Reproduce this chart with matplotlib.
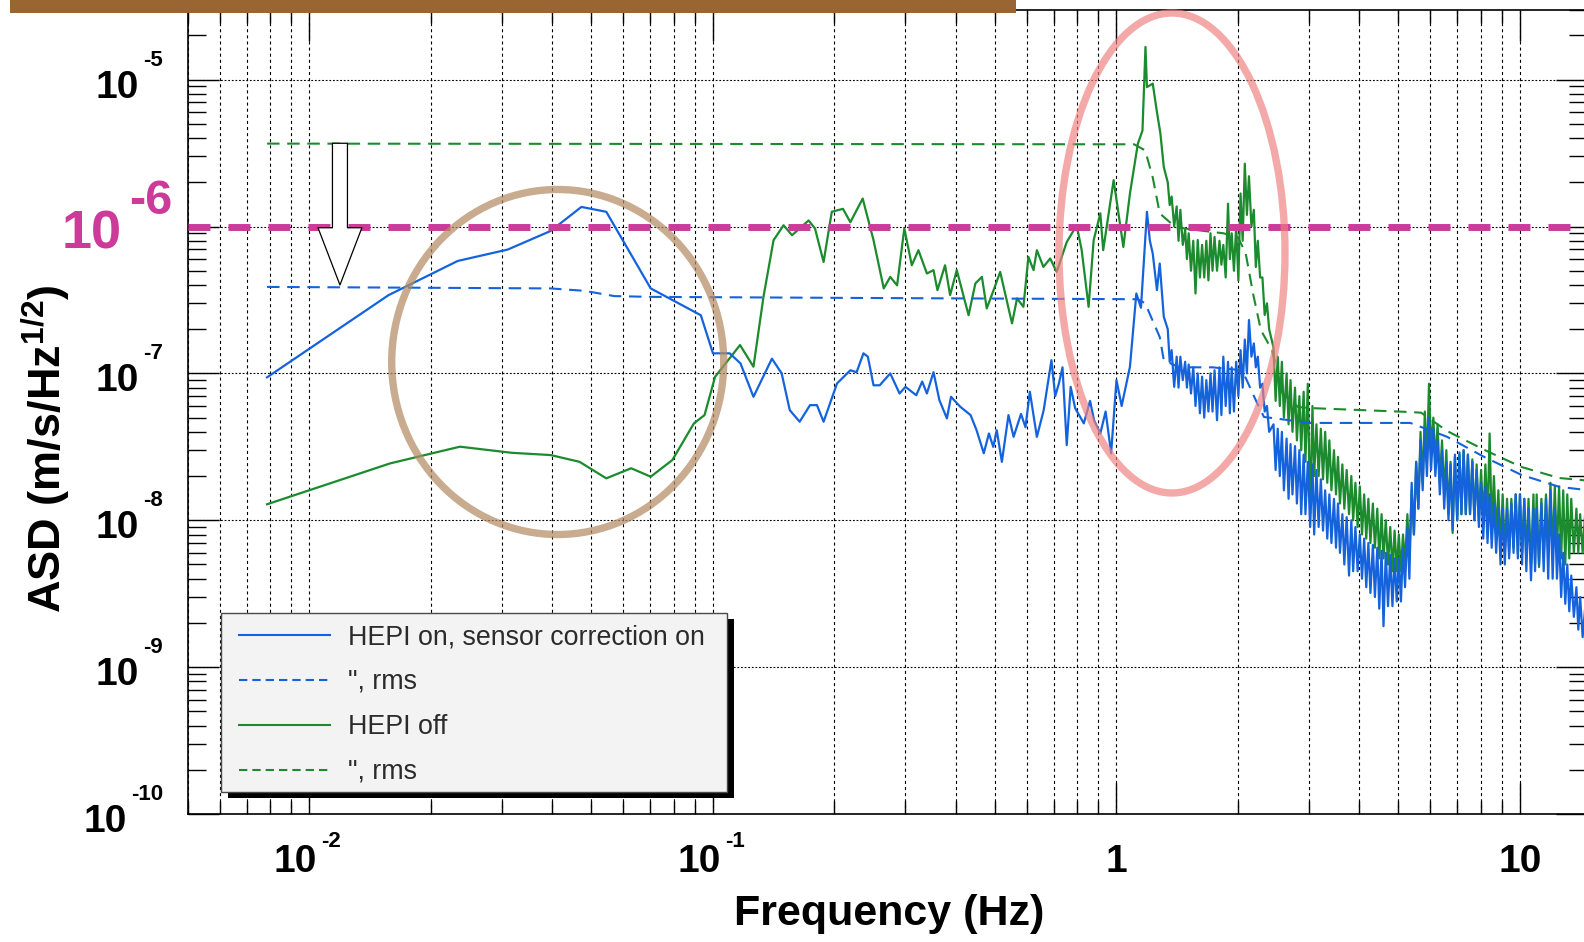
import numpy as np
import matplotlib
matplotlib.use("Agg")
import matplotlib.pyplot as plt
from matplotlib.patches import Ellipse, Rectangle
from matplotlib.lines import Line2D
from matplotlib.ticker import LogLocator, NullFormatter
import matplotlib.transforms as mtransforms

plt.rcParams['font.family'] = ['Liberation Sans', 'DejaVu Sans']
plt.rcParams['lines.scale_dashes'] = False
plt.rcParams['mathtext.fontset'] = 'custom'
plt.rcParams['mathtext.rm'] = 'Liberation Sans:bold'
plt.rcParams['mathtext.bf'] = 'Liberation Sans:bold'
plt.rcParams['mathtext.it'] = 'Liberation Sans:bold'
plt.rcParams['mathtext.default'] = 'rm'

# ---------------- data ----------------
# smooth / low-frequency part (up to 1.31 Hz)
blue_lf_f = [0.00785, 0.0157, 0.0233, 0.0310, 0.0396, 0.0472, 0.0544, 0.0701, 0.0933, 0.100,
             0.110, 0.117, 0.126, 0.140, 0.148, 0.155, 0.164, 0.174, 0.181, 0.188,
             0.203, 0.219, 0.227, 0.236, 0.242, 0.250, 0.259, 0.275, 0.290, 0.300,
             0.319, 0.330, 0.339, 0.352, 0.364, 0.380, 0.389, 0.410, 0.435, 0.450,
             0.469, 0.483, 0.495, 0.505, 0.520, 0.540, 0.556, 0.580, 0.595, 0.610,
             0.635, 0.660, 0.690, 0.705, 0.720, 0.735, 0.753, 0.770, 0.790, 0.830,
             0.860, 0.880, 0.912, 0.940, 0.970, 1.00, 1.03, 1.08, 1.10, 1.12,
             1.15, 1.19, 1.21, 1.23, 1.26, 1.28, 1.31]
blue_lf_asd = [9.4e-8, 3.41e-7, 5.83e-7, 6.97e-7, 9.33e-7, 1.36e-6, 1.26e-6, 3.79e-7, 2.49e-7, 1.37e-7,
               1.37e-7, 1.17e-7, 6.93e-8, 1.26e-7, 1.0e-7, 5.62e-8, 4.69e-8, 6.08e-8, 6.08e-8, 4.69e-8,
               8.55e-8, 1.05e-7, 1.02e-7, 1.37e-7, 1.3e-7, 8.3e-8, 8.3e-8, 1.0e-7, 7.3e-8, 8.1e-8,
               7.1e-8, 8.8e-8, 7.3e-8, 1.02e-7, 6.58e-8, 4.94e-8, 6.93e-8, 5.93e-8, 5.2e-8, 4.11e-8,
               2.86e-8, 3.9e-8, 3.16e-8, 4.1e-8, 2.5e-8, 5.2e-8, 3.7e-8, 5.3e-8, 4.3e-8, 7.5e-8,
               3.7e-8, 5.6e-8, 1.23e-7, 7.0e-8, 8.55e-8, 1.1e-7, 3.25e-8, 8.1e-8, 5.8e-8, 4.57e-8,
               6.5e-8, 4.8e-8, 3.9e-8, 5.5e-8, 2.86e-8, 9.0e-8, 6.0e-8, 1.11e-7, 2.0e-7, 3.5e-7,
               2.8e-7, 1.26e-6, 8.0e-7, 6.55e-7, 3.69e-7, 5.6e-7, 2.43e-7]

green_lf_f = [0.00785, 0.01585, 0.0236, 0.0317, 0.0396, 0.0467, 0.0544, 0.0627, 0.0701, 0.0793,
              0.0897, 0.0953, 0.1012, 0.1167, 0.126, 0.1334, 0.1413, 0.1496, 0.157, 0.1726,
              0.179, 0.188, 0.197, 0.21, 0.219, 0.235, 0.25, 0.265, 0.275, 0.286,
              0.298, 0.311, 0.323, 0.339, 0.352, 0.36, 0.376, 0.387, 0.402, 0.43,
              0.447, 0.464, 0.477, 0.496, 0.515, 0.551, 0.567, 0.588, 0.605, 0.623,
              0.635, 0.659, 0.685, 0.711, 0.753, 0.797, 0.82, 0.853, 0.878, 0.912,
              0.927, 0.984, 1.04, 1.08, 1.13, 1.16, 1.18, 1.19, 1.23, 1.26,
              1.285, 1.31]
green_lf_asd = [1.285e-8, 2.44e-8, 3.17e-8, 2.88e-8, 2.78e-8, 2.5e-8, 1.93e-8, 2.26e-8, 1.98e-8, 2.57e-8,
                4.57e-8, 5.2e-8, 9.48e-8, 1.56e-7, 1.11e-7, 3.32e-7, 8.07e-7, 1.02e-6, 8.73e-7, 1.10e-6,
                9.7e-7, 5.74e-7, 1.26e-6, 1.32e-6, 1.07e-6, 1.55e-6, 8.07e-7, 3.79e-7, 4.54e-7, 3.98e-7,
                9.7e-7, 5.45e-7, 6.9e-7, 4.79e-7, 5.05e-7, 3.69e-7, 5.45e-7, 3.41e-7, 5.05e-7, 2.49e-7,
                4.1e-7, 4.54e-7, 2.77e-7, 3.69e-7, 4.91e-7, 2.19e-7, 3.24e-7, 2.84e-7, 6.21e-7, 5.05e-7,
                6.9e-7, 5.31e-7, 6.06e-7, 4.91e-7, 7.85e-7, 1.02e-6, 6.9e-7, 2.84e-7, 8.07e-7, 1.23e-6,
                6.9e-7, 2.07e-6, 7.26e-7, 1.68e-6, 3.67e-6, 4.5e-6, 1.67e-5, 8.9e-6, 9.4e-6, 6.0e-6,
                4.3e-6, 2.54e-6]

# noisy part (1.34 - 14.8 Hz): upper-envelope samples at nz_f, lower-envelope samples at nz_mid
nz_f = [1.34, 1.37, 1.41, 1.44, 1.48, 1.51, 1.55, 1.59, 1.63, 1.67,
        1.71, 1.75, 1.80, 1.84, 1.89, 1.93, 1.98, 2.03, 2.08, 2.13,
        2.19, 2.24, 2.30, 2.36,
        2.45, 2.51, 2.57, 2.64, 2.70, 2.77, 2.84, 2.91, 2.98, 3.06,
        3.13, 3.21, 3.29, 3.37, 3.46, 3.54, 3.63, 3.72, 3.82, 3.91,
        4.01, 4.11, 4.21, 4.32, 4.43, 4.54, 4.65, 4.77, 4.89, 5.01,
        5.13, 5.26, 5.39, 5.53, 5.67, 5.81, 5.95, 6.10, 6.25, 6.41,
        6.57, 6.73, 6.90, 7.08, 7.25, 7.43, 7.62, 7.81, 8.01, 8.21,
        8.41, 8.62, 8.84, 9.06, 9.29, 9.52, 9.76, 10.0, 10.25, 10.5,
        10.8, 11.0, 11.3, 11.6, 11.9, 12.2, 12.5, 12.8, 13.1, 13.4,
        13.8, 14.1, 14.5, 14.8]
nz_mid = [1.355, 1.39, 1.425, 1.46, 1.495, 1.53, 1.57, 1.61, 1.65, 1.69,
          1.73, 1.775, 1.82, 1.865, 1.91, 1.955, 2.005, 2.055, 2.105, 2.16,
          2.215, 2.27, 2.33, 2.39,
          2.48, 2.54, 2.60, 2.67, 2.73, 2.80, 2.87, 2.94, 3.02, 3.09,
          3.17, 3.25, 3.33, 3.41, 3.50, 3.58, 3.67, 3.77, 3.86, 3.96,
          4.06, 4.16, 4.26, 4.37, 4.48, 4.59, 4.71, 4.83, 4.95, 5.07,
          5.19, 5.32, 5.46, 5.60, 5.74, 5.88, 6.02, 6.17, 6.33, 6.49,
          6.65, 6.81, 6.99, 7.16, 7.34, 7.52, 7.71, 7.91, 8.11, 8.31,
          8.51, 8.73, 8.95, 9.17, 9.40, 9.64, 9.88, 10.12, 10.37, 10.65,
          10.9, 11.15, 11.45, 11.75, 12.05, 12.35, 12.65, 12.95, 13.25, 13.6,
          13.95, 14.3, 14.65, 14.95]
blue_nz_up = [2.0e-7, 1.44e-7, 1.3e-7, 1.3e-7, 1.2e-7, 1.15e-7, 1.1e-7, 1.0e-7, 9.5e-8, 9e-8,
              1.0e-7, 1.05e-7, 1.1e-7, 1.3e-7, 1.2e-7, 1.1e-7, 1.2e-7, 1.44e-7, 1.7e-7, 2.31e-7,
              1.6e-7, 1.3e-7, 8.5e-8, 6e-8,
              4.5e-8, 4.2e-8, 4.0e-8, 3.6e-8, 3.3e-8, 3.2e-8, 3.0e-8, 2.8e-8, 2.5e-8, 2.4e-8,
              2.2e-8, 1.9e-8, 1.6e-8, 1.5e-8, 1.4e-8, 1.3e-8, 1.1e-8, 1.05e-8, 1.0e-8, 9e-9,
              8e-9, 7.5e-9, 7e-9, 6.8e-9, 6.5e-9, 6.2e-9, 6e-9, 5.8e-9, 5.5e-9, 5.5e-9,
              6.5e-9, 9e-9, 1.8e-8, 2.5e-8, 3.5e-8, 4.2e-8, 5e-8, 4.2e-8, 3.5e-8, 3e-8,
              2.5e-8, 2.4e-8, 2.8e-8, 2.9e-8, 3e-8, 2.8e-8, 2.5e-8, 2.2e-8, 1.8e-8, 1.7e-8,
              1.5e-8, 1.3e-8, 1.2e-8, 1.2e-8, 1.2e-8, 1.3e-8, 1.5e-8, 1.5e-8, 1.4e-8, 1.2e-8,
              1.2e-8, 1.2e-8, 1.3e-8, 1.4e-8, 1.6e-8, 1.2e-8, 8e-9, 6e-9, 5e-9, 4.2e-9,
              3.5e-9, 3e-9, 2.5e-9, 2.3e-9]
blue_nz_low = [1.2e-7, 8.1e-8, 8e-8, 9e-8, 8e-8, 7.3e-8, 6e-8, 5.35e-8, 5e-8, 5.5e-8,
               5.5e-8, 4.8e-8, 5.2e-8, 6e-8, 5.35e-8, 5.5e-8, 7e-8, 8e-8, 1.0e-7, 1.3e-7,
               1.1e-7, 8e-8, 5.5e-8, 4e-8,
               2.2e-8, 2.0e-8, 1.6e-8, 1.4e-8, 1.5e-8, 1.3e-8, 1.1e-8, 1.1e-8, 9e-9, 8e-9,
               9e-9, 8.5e-9, 7.5e-9, 7e-9, 6.5e-9, 6e-9, 5e-9, 4.2e-9, 4.5e-9, 4.5e-9,
               4e-9, 3.5e-9, 3.2e-9, 3e-9, 2.5e-9, 1.9e-9, 2.6e-9, 2.6e-9, 2.8e-9, 2.8e-9,
               3.5e-9, 4e-9, 8e-9, 1.2e-8, 1.6e-8, 2e-8, 2.2e-8, 2.0e-8, 1.5e-8, 1.2e-8,
               1.0e-8, 8.6e-9, 1.0e-8, 1.1e-8, 1.1e-8, 1.1e-8, 1.0e-8, 9e-9, 7.5e-9, 7e-9,
               6.5e-9, 6e-9, 5e-9, 5e-9, 5.5e-9, 6e-9, 5.5e-9, 5e-9, 4.5e-9, 3.9e-9,
               4.5e-9, 5e-9, 4.5e-9, 4e-9, 4e-9, 4e-9, 3e-9, 2.7e-9, 2.4e-9, 2.2e-9,
               1.8e-9, 1.6e-9, 1.5e-9, 1.4e-9]
green_nz_up = [2.0e-6, 1.6e-6, 1.37e-6, 1.3e-6, 9.5e-7, 9e-7, 8e-7, 8.1e-7, 7.5e-7, 8e-7,
               9e-7, 8.5e-7, 8e-7, 7.5e-7, 1.43e-6, 9e-7, 1.0e-6, 1.68e-6, 2.68e-6, 2.2e-6,
               1.3e-6, 8e-7, 4.5e-7, 3.0e-7,
               1.5e-7, 1.3e-7, 1.2e-7, 1.0e-7, 9e-8, 8e-8, 7e-8, 7.5e-8, 8.5e-8, 6e-8,
               4.5e-8, 4.2e-8, 4e-8, 3.5e-8, 3e-8, 2.7e-8, 2.4e-8, 2.2e-8, 2e-8, 1.8e-8,
               1.7e-8, 1.5e-8, 1.4e-8, 1.3e-8, 1.2e-8, 1.1e-8, 1e-8, 9e-9, 8.5e-9, 8e-9,
               8e-9, 1.1e-8, 1.6e-8, 2.5e-8, 4e-8, 5.5e-8, 8.5e-8, 5e-8, 4.5e-8, 3.5e-8,
               3e-8, 2.5e-8, 2.7e-8, 2.8e-8, 3e-8, 2.8e-8, 2.6e-8, 2.4e-8, 2.2e-8, 2.4e-8,
               3.9e-8, 2e-8, 1.6e-8, 1.5e-8, 1.4e-8, 1.4e-8, 1.5e-8, 1.5e-8, 1.4e-8, 1.4e-8,
               1.5e-8, 1.5e-8, 1.4e-8, 1.5e-8, 1.8e-8, 1.7e-8, 1.7e-8, 1.6e-8, 1.5e-8, 1.4e-8,
               1.2e-8, 1.1e-8, 1.1e-8, 1.1e-8]
green_nz_low = [1.4e-6, 1.0e-6, 8e-7, 7.5e-7, 6e-7, 5e-7, 3.5e-7, 4.5e-7, 4.5e-7, 4.3e-7,
                5e-7, 5e-7, 5.5e-7, 4.5e-7, 6e-7, 5e-7, 4.3e-7, 8e-7, 1.2e-6, 1.0e-6,
                5.3e-7, 4.5e-7, 2.5e-7, 2.0e-7,
                6.5e-8, 6.0e-8, 5.0e-8, 4.5e-8, 4e-8, 3.5e-8, 3e-8, 2.5e-8, 1.1e-8, 2e-8,
                2e-8, 1.9e-8, 1.8e-8, 1.6e-8, 1.5e-8, 1.3e-8, 1.2e-8, 1.1e-8, 1e-8, 9e-9,
                8e-9, 7.5e-9, 7e-9, 6.5e-9, 5.5e-9, 5.5e-9, 5e-9, 4.5e-9, 4.5e-9, 4.5e-9,
                5e-9, 5.5e-9, 8e-9, 1.2e-8, 1.8e-8, 2.5e-8, 3e-8, 2.5e-8, 1.8e-8, 1.5e-8,
                1.1e-8, 8.2e-9, 1e-8, 1.1e-8, 1.1e-8, 1.1e-8, 1e-8, 1e-8, 1e-8, 1e-8,
                9e-9, 8e-9, 6.5e-9, 6e-9, 6e-9, 6.5e-9, 6e-9, 6e-9, 5.5e-9, 5e-9,
                5e-9, 4.8e-9, 5.5e-9, 6e-9, 6e-9, 6e-9, 5.5e-9, 5e-9, 5.5e-9, 6e-9,
                6e-9, 6e-9, 6.5e-9, 7e-9]

blue_rms_f = [0.00785, 0.0396, 0.048, 0.057, 0.07, 0.2, 1.13, 1.178, 1.28, 1.31, 1.43, 1.73,
              2.05, 2.23, 2.32, 2.53, 3.0, 5.35, 6.6, 8.15, 10.07, 12.5, 14.8]
blue_rms = [3.88e-7, 3.79e-7, 3.65e-7, 3.36e-7, 3.32e-7, 3.27e-7, 3.2e-7, 3.0e-7, 1.77e-7, 1.23e-7,
            1.1e-7, 1.1e-7, 1.05e-7, 6.3e-8, 5.05e-8, 4.9e-8, 4.6e-8, 4.6e-8, 3.7e-8, 2.7e-8,
            2.04e-8, 1.69e-8, 1.6e-8]
green_rms_f = [0.00785, 1.106, 1.178, 1.23, 1.28, 1.40, 1.56, 1.84, 2.0, 2.09, 2.18, 2.28,
               2.43, 2.58, 2.82, 3.06, 5.33, 5.69, 6.59, 8.15, 10.07, 12.5, 14.8]
green_rms = [3.67e-6, 3.63e-6, 3.3e-6, 2.16e-6, 1.23e-6, 9.9e-7, 9.5e-7, 9.0e-7, 8.45e-7, 6.6e-7,
             3.5e-7, 1.97e-7, 1.44e-7, 7.3e-8, 5.9e-8, 5.8e-8, 5.46e-8, 5.4e-8, 4.06e-8, 3.02e-8,
             2.31e-8, 1.94e-8, 1.86e-8]

legend_labels = ['HEPI on, sensor correction on', '", rms', 'HEPI off', '", rms']
ytick_vals = [1e-10, 1e-9, 1e-8, 1e-7, 1e-5]
ytick_sups = ['-10', '-9', '-8', '-7', '-5']
xtick_vals = [0.01, 0.1, 1, 10]
xtick_base = ['10', '10', '1', '10']
xtick_sups = ['-2', '-1', '', '']
target_level = 1e-6
arrow_f, arrow_from, arrow_to = 0.0119, 3.69e-6, 4.0e-7


def interleave(a, b):
    out = []
    for p, q in zip(a, b):
        out += [p, q]
    return out


blue_f = blue_lf_f + interleave(nz_f, nz_mid)
blue_asd = blue_lf_asd + interleave(blue_nz_up, blue_nz_low)
green_f = green_lf_f + interleave(nz_f, nz_mid)
green_asd = green_lf_asd + interleave(green_nz_up, green_nz_low)

# ---------------- figure ----------------
W, H, DPI = 1584, 942, 100
fig = plt.figure(figsize=(W / DPI, H / DPI), dpi=DPI)
fig.patch.set_facecolor('white')
L, R, T, B = 188, 1587, 9.6, 814
ax = fig.add_axes([L / W, 1 - B / H, (R - L) / W, (B - T) / H])
ax.set_xscale('log')
ax.set_yscale('log')
ax.set_xlim(5e-3, 14.66)
ax.set_ylim(1e-10, 3e-5)

blue = '#1463DD'
green = '#1B8B2E'
magenta = '#CC3A9A'

for axis in (ax.xaxis, ax.yaxis):
    axis.set_major_locator(LogLocator(base=10, numticks=30))
    axis.set_minor_locator(LogLocator(base=10, subs=np.arange(2, 10), numticks=30))
    axis.set_major_formatter(NullFormatter())
    axis.set_minor_formatter(NullFormatter())

ax.grid(True, which='both', axis='x', color='k', lw=0.8, ls=(0, (2.2, 2.2)))
ax.grid(True, which='major', axis='y', color='k', lw=0.8, ls=(0, (1.3, 1.3)))
ax.set_axisbelow(True)
ax.tick_params(which='both', direction='in', top=True, right=True, width=1.0,
               labelbottom=False, labelleft=False)
ax.tick_params(which='major', length=22.3)
ax.tick_params(axis='x', which='minor', length=9.4)
ax.tick_params(axis='y', which='minor', length=13)
for s in ax.spines.values():
    s.set_linewidth(1.2)

ax.plot(green_f, green_asd, color=green, lw=1.6, zorder=3)
ax.plot(green_rms_f, green_rms, color=green, lw=1.5, ls=(0, (9, 5.5)), zorder=3)
ax.plot(blue_f, blue_asd, color=blue, lw=1.6, zorder=4)
ax.plot(blue_rms_f, blue_rms, color=blue, lw=1.5, ls=(0, (9, 5.5)), zorder=4)

ax.axhline(target_level, color=magenta, lw=5, ls=(0, (15.8, 13)), zorder=5)

ax.annotate('', xy=(arrow_f, arrow_to), xytext=(arrow_f, arrow_from),
            arrowprops=dict(arrowstyle='simple,head_length=1.03,head_width=0.79,tail_width=0.27',
                            fc='white', ec='black', lw=0.9, mutation_scale=40,
                            shrinkA=0, shrinkB=0), zorder=6)

# ---------------- annotations: ellipses ----------------
fig.add_artist(Ellipse((557.7 / W, 1 - 362 / H), 332 / W, 345 / H, fill=False,
                       ec=(180 / 255, 140 / 255, 100 / 255, 0.72), lw=5.3,
                       transform=fig.transFigure, zorder=5))
fig.add_artist(Ellipse((1172 / W, 1 - 253 / H), 226 / W, 480 / H, fill=False,
                       ec=(240 / 255, 128 / 255, 128 / 255, 0.68), lw=5.3,
                       transform=fig.transFigure, zorder=5))

# ---------------- tick labels ----------------
renderer = fig.canvas.get_renderer()


def off(dx, dy):
    return mtransforms.ScaledTranslation(dx / DPI, -dy / DPI, fig.dpi_scale_trans)


ytr = ax.get_yaxis_transform()
for v, sup in zip(ytick_vals, ytick_sups):
    t2 = ax.text(0, v, sup, transform=ytr + off(-25, -14), ha='right', va='baseline',
                 fontsize=16, fontweight='bold', clip_on=False)
    w = t2.get_window_extent(renderer).width
    ax.text(0, v, '10', transform=ytr + off(-25 - w - 4, 18), ha='right', va='baseline',
            fontsize=28, fontweight='bold', clip_on=False)

t2 = ax.text(0, target_level, '-6', transform=ytr + off(-16, -13), ha='right', va='baseline',
             fontsize=35, fontweight='bold', color=magenta, clip_on=False)
w = t2.get_window_extent(renderer).width
ax.text(0, target_level, '10', transform=ytr + off(-16 - w - 7, 22), ha='right', va='baseline',
        fontsize=39, fontweight='bold', color=magenta, clip_on=False)

xtr = ax.get_xaxis_transform()
for v, base, sup in zip(xtick_vals, xtick_base, xtick_sups):
    if sup:
        tb = ax.text(v, 0, base, transform=xtr, fontsize=28, fontweight='bold')
        ts = ax.text(v, 0, sup, transform=xtr, fontsize=16, fontweight='bold')
        wb = tb.get_window_extent(renderer).width
        ws = ts.get_window_extent(renderer).width
        left = -2 - (wb + 4 + ws) / 2
        tb.set_transform(xtr + off(left, 58))
        tb.set_ha('left'); tb.set_va('baseline'); tb.set_clip_on(False)
        ts.set_transform(xtr + off(left + wb + 4, 33))
        ts.set_ha('left'); ts.set_va('baseline'); ts.set_clip_on(False)
    else:
        ax.text(v, 0, base, transform=xtr + off(0, 58), ha='center', va='baseline',
                fontsize=28, fontweight='bold', clip_on=False)

# axis labels
fig.text(889 / W, 1 - 925 / H, 'Frequency (Hz)', ha='center', va='baseline',
         fontsize=31, fontweight='bold')
fig.text(46 / W, 1 - 449 / H, r'ASD (m/s/Hz$^{1/2}$)', rotation=90, ha='center', va='center',
         fontsize=32.5, fontweight='bold')

# ---------------- legend (boxed, with drop shadow) ----------------
bx0, bx1, by0, by1 = 220.7, 726.9, 612.7, 791.7
fig.add_artist(Rectangle(((bx0 + 7) / W, 1 - (by1 + 6) / H), (bx1 - bx0) / W, (by1 - by0) / H,
                         transform=fig.transFigure, fc='black', ec='none', zorder=8))
fig.add_artist(Rectangle((bx0 / W, 1 - by1 / H), (bx1 - bx0) / W, (by1 - by0) / H,
                         transform=fig.transFigure, fc='#F3F3F3', ec='#4a4a4a', lw=1.0, zorder=9))
row_y = [634.5, 679.5, 724.5, 769.5]
row_col = [blue, blue, green, green]
row_ls = ['-', (0, (6, 3.6)), '-', (0, (6, 3.6))]
for yy, c, ls, lab in zip(row_y, row_col, row_ls, legend_labels):
    fig.add_artist(Line2D([238.6 / W, 330 / W], [1 - yy / H, 1 - yy / H], transform=fig.transFigure,
                          color=c, lw=1.5, ls=ls, zorder=10))
    fig.text(348 / W, 1 - (yy + 9.5) / H, lab, fontsize=19.3, color='#2b2b2b', va='baseline',
             zorder=10)

# slide title banner (cropped)
fig.add_artist(Rectangle((10 / W, 1 - 13.3 / H), 1006 / W, 13.3 / H + 0.01, transform=fig.transFigure,
                         fc='#996633', ec='none', zorder=20))

fig.savefig('out.png', dpi=DPI)
